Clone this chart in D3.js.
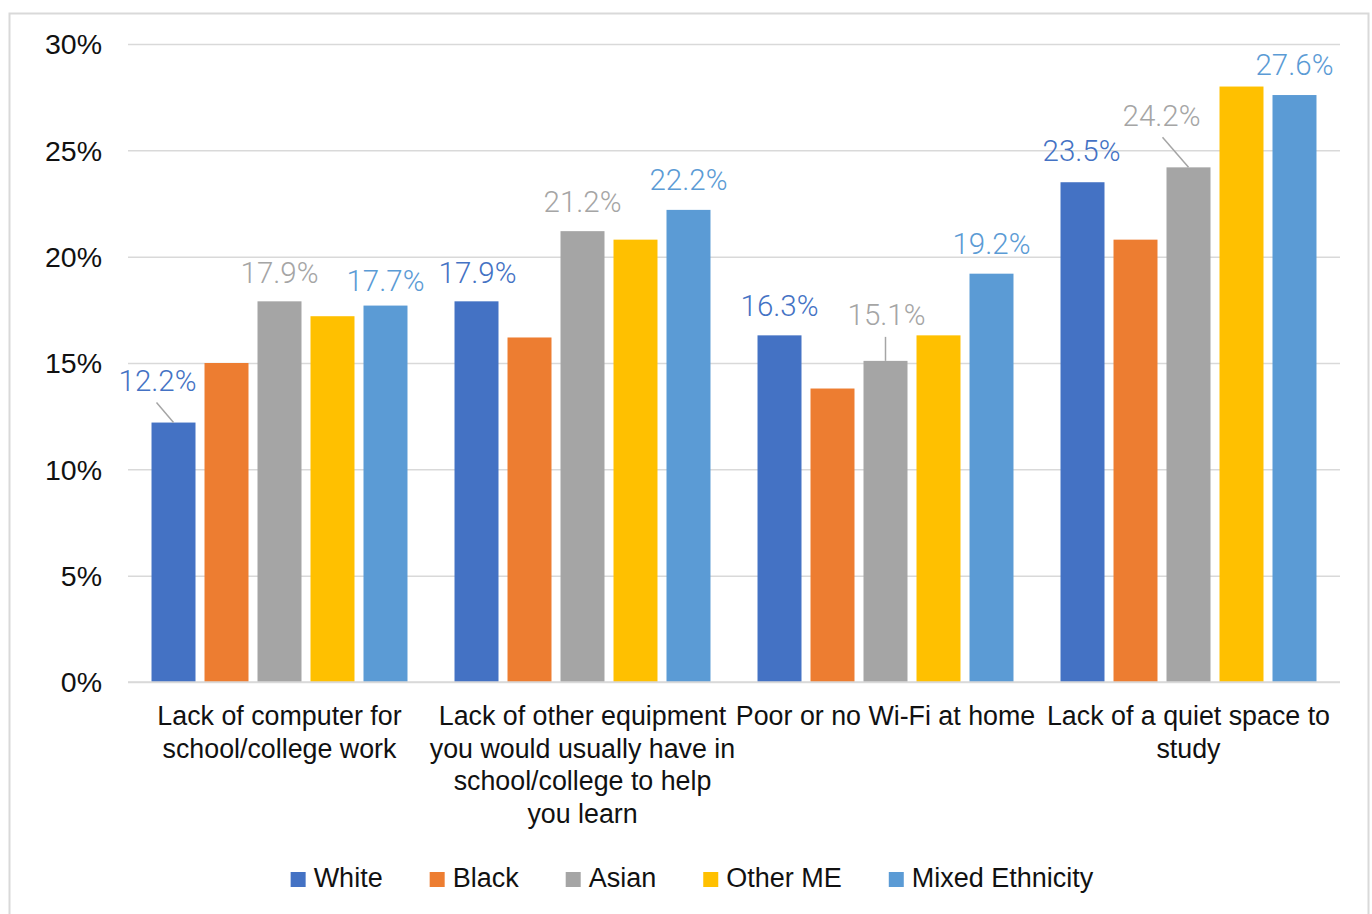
<!DOCTYPE html>
<html>
<head>
<meta charset="utf-8">
<script src="https://cdn.jsdelivr.net/npm/d3@7"></script>
<style>
  html, body { margin: 0; padding: 0; background: #fff; }
  svg { display: block; }
</style>
</head>
<body>
<svg id="chart" width="1372" height="914"></svg>
<script>
// ---- data ----
const categories = [
  ["Lack of computer for", "school/college work"],
  ["Lack of other equipment", "you would usually have in", "school/college to help", "you learn"],
  ["Poor or no Wi-Fi at home"],
  ["Lack of a quiet space to", "study"]
];
const seriesNames = ["White", "Black", "Asian", "Other ME", "Mixed Ethnicity"];
const white  = [12.2, 17.9, 16.3, 23.5];
const black  = [15.0, 16.2, 13.8, 20.8];
const asian  = [17.9, 21.2, 15.1, 24.2];
const otherME = [17.2, 20.8, 16.3, 28.0];
const mixed  = [17.7, 22.2, 19.2, 27.6];
const seriesValues = [white, black, asian, otherME, mixed];
const yTicks = [0, 5, 10, 15, 20, 25, 30];

// which values carry a data label (series index, category index)
const labelled = [
  [0,0],[2,0],[4,0],
  [0,1],[2,1],[4,1],
  [0,2],[2,2],[4,2],
  [0,3],[2,3],[4,3]
];

// ---- styles / layout ----
const colors = ["#4472C4", "#ED7D31", "#A5A5A5", "#FFC000", "#5B9BD5"];
const labelColors = ["#4472C4", "#ED7D31", "#A5A5A5", "#FFC000", "#5B9BD5"];
// label placement offsets (dx, dy of text baseline from bar top centre) and optional leader
const labelLayout = {
  "0,0": {dx: -16, dy: -32, leader: [[-17, -20], [0, 0]]},
  "2,0": {dx: 0, dy: -18},
  "4,0": {dx: 0, dy: -15},
  "0,1": {dx: 1, dy: -18},
  "2,1": {dx: 0, dy: -19},
  "4,1": {dx: 0, dy: -20},
  "0,2": {dx: 0, dy: -19},
  "2,2": {dx: 1, dy: -36, leader: [[0, -24], [0, 0]]},
  "4,2": {dx: 0, dy: -20},
  "0,3": {dx: -1, dy: -21},
  "2,3": {dx: -27, dy: -41, leader: [[-26, -30], [0, 0]]},
  "4,3": {dx: 0, dy: -20}
};

const svg = d3.select("#chart");
const font = "'Liberation Sans', Arial, Helvetica, sans-serif";
const lightFont = "Roboto, 'Liberation Sans', Arial, sans-serif";

// frame
svg.append("rect")
  .attr("x", 9.5).attr("y", 13.5)
  .attr("width", 1359).attr("height", 920)
  .attr("fill", "#fff").attr("stroke", "#D9D9D9").attr("stroke-width", 2);

const plotLeft = 128, plotRight = 1340, plotTop = 44, plotBottom = 682;

const y = d3.scaleLinear().domain([0, 30]).range([plotBottom, plotTop]);
const x0 = d3.scaleBand().domain(d3.range(categories.length)).range([plotLeft, plotRight]).padding(0);
const bw = x0.bandwidth();
const x1 = d3.scaleBand().domain(d3.range(seriesNames.length))
  .range([bw * 0.0776, bw * 0.9224]).paddingInner(0.17).paddingOuter(0);

// gridlines via axis
const yAxis = d3.axisLeft(y).tickValues(yTicks)
  .tickSize(-(plotRight - plotLeft)).tickFormat(d => d + "%").tickPadding(26);
const gy = svg.append("g").attr("transform", `translate(${plotLeft},0)`).call(yAxis);
gy.select(".domain").remove();
gy.selectAll(".tick line").attr("stroke", "#D9D9D9").attr("stroke-width", 1.5);
gy.selectAll(".tick text")
  .attr("fill", "#111").attr("font-family", font).attr("font-size", 28.5)
  .attr("dy", "0.34em");

// bars
const groups = svg.append("g").selectAll("g")
  .data(categories.map((c, i) => i))
  .join("g")
  .attr("transform", i => `translate(${x0(i)},0)`);

groups.selectAll("rect")
  .data(ci => seriesValues.map((vals, si) => ({si, ci, v: vals[ci]})))
  .join("rect")
  .attr("x", d => x1(d.si))
  .attr("width", x1.bandwidth())
  .attr("y", d => y(d.v))
  .attr("height", d => y(0) - y(d.v))
  .attr("fill", d => colors[d.si]);

// baseline
svg.append("line")
  .attr("x1", plotLeft).attr("x2", plotRight)
  .attr("y1", y(0)).attr("y2", y(0))
  .attr("stroke", "#D9D9D9").attr("stroke-width", 1.5);

// data labels
const lab = svg.append("g");
labelled.forEach(([si, ci]) => {
  const v = seriesValues[si][ci];
  const cx = x0(ci) + x1(si) + x1.bandwidth() / 2;
  const ty = y(v);
  const L = labelLayout[si + "," + ci];
  if (L.leader) {
    lab.append("line")
      .attr("x1", cx + L.leader[0][0]).attr("y1", ty + L.leader[0][1])
      .attr("x2", cx + L.leader[1][0]).attr("y2", ty + L.leader[1][1])
      .attr("stroke", "#A5A5A5").attr("stroke-width", 1.5);
  }
  lab.append("text")
    .attr("x", cx + L.dx).attr("y", ty + L.dy)
    .attr("text-anchor", "middle")
    .attr("font-family", lightFont).attr("font-weight", 300)
    .attr("font-size", 29.5)
    .attr("fill", labelColors[si])
    .text(v.toFixed(1) + "%");
});

// category labels
const catG = svg.append("g");
categories.forEach((lines, ci) => {
  const t = catG.append("text")
    .attr("text-anchor", "middle")
    .attr("font-family", font).attr("font-size", 26.8)
    .attr("fill", "#111");
  lines.forEach((ln, k) => {
    t.append("tspan")
      .attr("x", x0(ci) + bw / 2)
      .attr("y", 725 + k * 32.7)
      .text(ln);
  });
});

// legend
const legend = svg.append("g");
const items = [];
let cursor = 0;
seriesNames.forEach((name, i) => {
  const g = legend.append("g");
  g.append("rect").attr("x", 0).attr("y", -15).attr("width", 15).attr("height", 15)
    .attr("fill", colors[i]);
  const t = g.append("text").attr("x", 23).attr("y", 0)
    .attr("font-family", font).attr("font-size", 27).attr("fill", "#111").text(name);
  const w = 23 + t.node().getComputedTextLength();
  items.push({g, x: cursor});
  cursor += w + 47;
});
const totalW = cursor - 47;
const legendCenter = 692;
items.forEach(it => it.g.attr("transform", `translate(${legendCenter - totalW / 2 + it.x},887)`));
</script>
</body>
</html>
